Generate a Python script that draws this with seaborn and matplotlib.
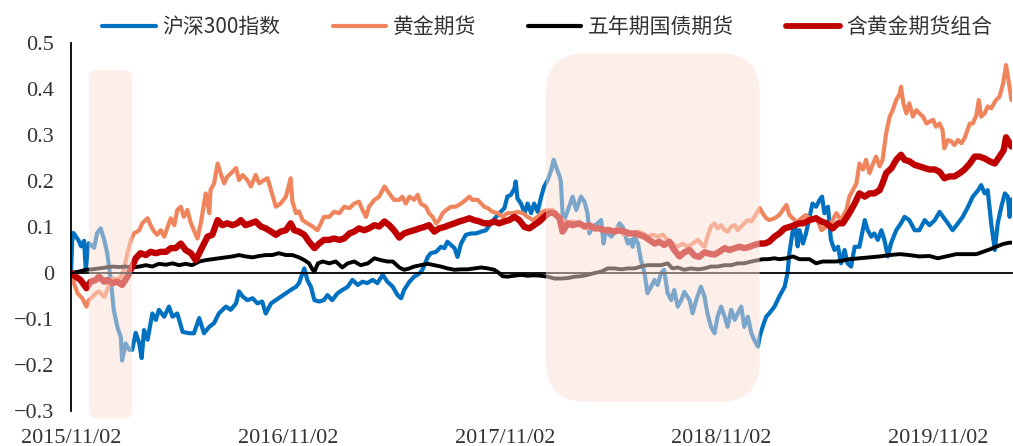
import numpy as np
import pandas as pd
import matplotlib
matplotlib.use("Agg")
import matplotlib.pyplot as plt
import matplotlib.dates as mdates
from matplotlib.patches import FancyBboxPatch
from matplotlib.transforms import IdentityTransform
from matplotlib.ticker import FuncFormatter, MultipleLocator
import seaborn as sns

# ---------------- data ----------------
start_date = "2015-11-02"
series_names = ["沪深300指数", "黄金期货", "五年期国债期货", "含黄金期货组合"]
x_tick_labels = ["2015/11/02", "2016/11/02", "2017/11/02", "2018/11/02", "2019/11/02"]

# days elapsed since start_date, and cumulative return
csi_days = [0, 2, 4, 8, 13, 17, 22, 25, 28, 30, 39, 44, 50, 56, 61, 67, 72, 78, 84, 86, 92, 98, 103, 109, 115,
            119, 123, 129, 137, 143, 148, 157, 165, 171, 179, 188, 199, 207, 216, 224, 233, 241, 249, 261, 269,
            278, 283, 289, 297, 306, 314, 322, 328, 337, 345, 354, 362, 370, 379, 384, 393, 398, 404, 410, 418,
            426, 432, 440, 449, 457, 466, 474, 483, 491, 499, 508, 516, 525, 533, 542, 550, 556, 561, 570, 578,
            587, 592, 601, 606, 615, 623, 629, 634, 640, 646, 651, 657, 665, 674, 682, 691, 699, 707, 716, 721,
            730, 735, 741, 747, 749, 752, 758, 764, 769, 775, 780, 786, 792, 797, 803, 809, 813, 817, 823, 825,
            828, 831, 839, 845, 851, 859, 865, 870, 873, 879, 887, 893, 897, 901, 910, 918, 924, 929, 938, 943,
            946, 949, 955, 960, 966, 971, 977, 983, 988, 994, 999, 1005, 1011, 1016, 1022, 1028, 1033, 1042,
            1047, 1053, 1061, 1067, 1072, 1078, 1084, 1089, 1095, 1101, 1106, 1112, 1118, 1123, 1129, 1134,
            1140, 1146, 1151, 1157, 1160, 1165, 1171, 1176, 1185, 1193, 1202, 1207, 1210, 1215, 1219, 1224,
            1227, 1233, 1238, 1244, 1249, 1255, 1261, 1265, 1269, 1275, 1280, 1286, 1292, 1297, 1303, 1308,
            1314, 1320, 1328, 1337, 1342, 1348, 1353, 1359, 1365, 1370, 1376, 1381, 1390, 1398, 1404, 1412,
            1421, 1429, 1438, 1446, 1455, 1463, 1469, 1477, 1485, 1494, 1502, 1511, 1519, 1528, 1533, 1539,
            1544, 1550, 1556, 1561, 1567, 1573, 1578, 1581, 1584]
csi_vals = [0.0, 0.07, 0.087, 0.08, 0.07, 0.058, 0.07, 0.006, 0.05, 0.065, 0.055, 0.087, 0.097, 0.072, 0.043,
            -0.015, -0.08, -0.117, -0.14, -0.19, -0.153, -0.167, -0.167, -0.13, -0.153, -0.185, -0.124, -0.145,
            -0.088, -0.102, -0.08, -0.095, -0.073, -0.095, -0.088, -0.128, -0.131, -0.131, -0.098, -0.131,
            -0.117, -0.109, -0.088, -0.073, -0.08, -0.066, -0.04, -0.051, -0.059, -0.055, -0.066, -0.062,
            -0.088, -0.066, -0.059, -0.051, -0.044, -0.037, -0.03, -0.022, 0.01, -0.015, -0.03, -0.059, -0.062,
            -0.059, -0.048, -0.059, -0.044, -0.037, -0.03, -0.015, -0.026, -0.019, -0.022, -0.015, -0.022,
            -0.004, -0.019, -0.03, -0.048, -0.055, -0.037, -0.019, -0.008, -0.001, 0.007, 0.035, 0.043, 0.046,
            0.057, 0.054, 0.068, 0.061, 0.054, 0.035, 0.064, 0.083, 0.086, 0.086, 0.09, 0.093, 0.108, 0.122,
            0.129, 0.141, 0.166, 0.17, 0.184, 0.199, 0.162, 0.151, 0.13, 0.151, 0.13, 0.151, 0.133, 0.166,
            0.188, 0.202, 0.224, 0.246, 0.231, 0.21, 0.2, 0.13, 0.115, 0.144, 0.166, 0.137, 0.166, 0.155, 0.13,
            0.086, 0.101, 0.108, 0.115, 0.064, 0.093, 0.079, 0.093, 0.108, 0.101, 0.064, 0.072, 0.057, 0.079,
            0.064, 0.028, 0.0, -0.044, -0.03, -0.015, -0.026, 0.0, 0.007, -0.044, -0.059, -0.037, -0.073,
            -0.059, -0.041, -0.059, -0.088, -0.059, -0.03, -0.051, -0.088, -0.117, -0.131, -0.095, -0.073,
            -0.095, -0.117, -0.08, -0.102, -0.088, -0.073, -0.117, -0.095, -0.131, -0.146, -0.16, -0.138,
            -0.117, -0.095, -0.088, -0.073, -0.051, -0.03, 0.0, 0.043, 0.086, 0.108, 0.058, 0.093, 0.064,
            0.086, 0.122, 0.151, 0.144, 0.159, 0.166, 0.13, 0.144, 0.072, 0.05, 0.057, 0.021, 0.05, 0.021,
            0.014, 0.057, 0.057, 0.115, 0.093, 0.079, 0.086, 0.072, 0.093, 0.072, 0.036, 0.064, 0.093, 0.108,
            0.122, 0.115, 0.093, 0.093, 0.115, 0.104, 0.115, 0.133, 0.122, 0.108, 0.093, 0.108, 0.122, 0.144,
            0.166, 0.18, 0.191, 0.173, 0.18, 0.108, 0.05, 0.108, 0.144, 0.173, 0.166, 0.122, 0.16]

gold_days = [0, 5, 11, 19, 26, 30, 36, 42, 47, 56, 61, 67, 72, 78, 84, 89, 95, 101, 106, 115, 120, 129, 134, 140,
             145, 151, 157, 162, 168, 174, 179, 185, 190, 196, 202, 207, 213, 219, 224, 227, 233, 235, 241, 247,
             252, 258, 263, 272, 278, 283, 289, 297, 303, 311, 317, 325, 331, 337, 345, 353, 362, 370, 373, 379,
             384, 390, 398, 407, 415, 421, 426, 435, 443, 452, 460, 469, 477, 485, 491, 497, 502, 511, 519, 528,
             536, 544, 553, 558, 564, 570, 578, 584, 589, 598, 603, 609, 615, 620, 626, 632, 640, 648, 657, 665,
             671, 676, 685, 691, 696, 702, 710, 719, 727, 735, 744, 752, 761, 769, 778, 786, 794, 803, 811, 820,
             828, 837, 845, 853, 862, 870, 879, 887, 896, 904, 912, 921, 929, 938, 946, 955, 963, 971, 980, 988,
             997, 1005, 1013, 1022, 1030, 1039, 1047, 1056, 1061, 1067, 1072, 1078, 1084, 1089, 1095, 1101, 1106,
             1112, 1118, 1123, 1129, 1134, 1140, 1146, 1151, 1160, 1165, 1171, 1176, 1185, 1193, 1205, 1210,
             1219, 1221, 1230, 1238, 1247, 1255, 1264, 1272, 1280, 1289, 1297, 1306, 1311, 1317, 1323, 1328,
             1334, 1339, 1345, 1351, 1356, 1362, 1367, 1373, 1379, 1384, 1390, 1396, 1398, 1402, 1407, 1412,
             1418, 1424, 1429, 1435, 1441, 1446, 1452, 1457, 1463, 1468, 1471, 1477, 1483, 1488, 1494, 1500,
             1505, 1514, 1519, 1525, 1529, 1533, 1539, 1544, 1550, 1558, 1564, 1570, 1575, 1580, 1584]
gold_vals = [0.0, -0.022, -0.044, -0.055, -0.073, -0.059, -0.052, -0.044, -0.04, -0.052, -0.037, -0.015, -0.012,
             -0.015, -0.008, 0.007, 0.043, 0.072, 0.086, 0.093, 0.108, 0.119, 0.104, 0.09, 0.083, 0.093, 0.079,
             0.097, 0.119, 0.104, 0.137, 0.144, 0.122, 0.137, 0.108, 0.093, 0.075, 0.11, 0.151, 0.173, 0.13,
             0.18, 0.195, 0.238, 0.217, 0.195, 0.209, 0.22, 0.228, 0.202, 0.213, 0.202, 0.188, 0.213, 0.195,
             0.202, 0.206, 0.18, 0.144, 0.151, 0.166, 0.206, 0.155, 0.13, 0.134, 0.115, 0.108, 0.101, 0.093,
             0.108, 0.122, 0.122, 0.133, 0.13, 0.144, 0.141, 0.151, 0.155, 0.137, 0.122, 0.144, 0.159, 0.166,
             0.188, 0.173, 0.159, 0.159, 0.166, 0.151, 0.166, 0.159, 0.17, 0.151, 0.144, 0.13, 0.122, 0.108,
             0.115, 0.13, 0.137, 0.144, 0.144, 0.151, 0.159, 0.166, 0.159, 0.159, 0.151, 0.144, 0.141, 0.133,
             0.13, 0.122, 0.13, 0.13, 0.133, 0.13, 0.122, 0.115, 0.122, 0.133, 0.137, 0.137, 0.126, 0.115,
             0.108, 0.112, 0.108, 0.104, 0.097, 0.101, 0.097, 0.093, 0.097, 0.09, 0.097, 0.086, 0.083, 0.086,
             0.09, 0.086, 0.079, 0.083, 0.079, 0.083, 0.072, 0.064, 0.057, 0.064, 0.057, 0.064, 0.072, 0.064,
             0.057, 0.079, 0.101, 0.108, 0.097, 0.104, 0.093, 0.09, 0.101, 0.104, 0.093, 0.101, 0.108, 0.115,
             0.112, 0.122, 0.141, 0.13, 0.119, 0.115, 0.119, 0.126, 0.148, 0.126, 0.115, 0.108, 0.119, 0.126,
             0.115, 0.122, 0.093, 0.101, 0.108, 0.13, 0.115, 0.137, 0.166, 0.18, 0.195, 0.238, 0.225, 0.246,
             0.217, 0.238, 0.253, 0.232, 0.246, 0.304, 0.34, 0.354, 0.376, 0.39, 0.405, 0.369, 0.347, 0.369,
             0.34, 0.354, 0.347, 0.34, 0.325, 0.329, 0.333, 0.318, 0.325, 0.311, 0.271, 0.289, 0.286, 0.278,
             0.289, 0.282, 0.293, 0.325, 0.325, 0.343, 0.376, 0.34, 0.347, 0.362, 0.358, 0.376, 0.383, 0.412,
             0.452, 0.412, 0.376]

bond_days = [0, 13, 25, 36, 47, 58, 70, 81, 92, 103, 115, 126, 137, 148, 160, 171, 182, 193, 204, 216, 227, 238,
             249, 261, 272, 283, 294, 306, 317, 328, 339, 350, 362, 373, 384, 393, 401, 407, 410, 416, 424, 435,
             446, 457, 466, 477, 488, 500, 511, 522, 533, 542, 553, 561, 570, 578, 589, 601, 612, 623, 634, 646,
             657, 668, 679, 691, 702, 713, 721, 727, 735, 747, 758, 769, 780, 792, 803, 814, 826, 837, 848, 859,
             870, 882, 893, 904, 915, 927, 938, 949, 960, 971, 983, 994, 1005, 1013, 1022, 1033, 1044, 1056,
             1067, 1078, 1089, 1101, 1112, 1123, 1134, 1146, 1157, 1165, 1174, 1185, 1193, 1205, 1216, 1227,
             1244, 1255, 1266, 1277, 1289, 1300, 1311, 1328, 1345, 1362, 1379, 1396, 1412, 1429, 1446, 1460,
             1474, 1491, 1508, 1525, 1536, 1547, 1558, 1570, 1581, 1584]
bond_vals = [0.0, 0.003, 0.007, 0.008, 0.01, 0.012, 0.014, 0.013, 0.014, 0.012, 0.014, 0.017, 0.014, 0.02,
             0.018, 0.021, 0.017, 0.02, 0.017, 0.025, 0.028, 0.03, 0.032, 0.034, 0.036, 0.039, 0.036, 0.034,
             0.037, 0.039, 0.039, 0.043, 0.039, 0.039, 0.034, 0.028, 0.021, 0.007, 0.003, 0.021, 0.025, 0.021,
             0.025, 0.012, 0.021, 0.025, 0.017, 0.021, 0.032, 0.028, 0.025, 0.025, 0.012, 0.007, 0.01, 0.014,
             0.017, 0.02, 0.017, 0.014, 0.01, 0.007, 0.008, 0.008, 0.01, 0.012, 0.01, 0.007, 0.0, -0.007, -0.008,
             -0.006, -0.004, -0.006, -0.005, -0.006, -0.008, -0.012, -0.012, -0.011, -0.008, -0.007, -0.004,
             0.0, 0.003, 0.01, 0.01, 0.008, 0.01, 0.01, 0.014, 0.017, 0.017, 0.017, 0.021, 0.01, 0.012, 0.007,
             0.01, 0.008, 0.01, 0.014, 0.014, 0.017, 0.017, 0.021, 0.021, 0.025, 0.028, 0.03, 0.03, 0.032, 0.03,
             0.032, 0.036, 0.03, 0.03, 0.021, 0.025, 0.025, 0.025, 0.027, 0.03, 0.032, 0.034, 0.036, 0.039,
             0.041, 0.039, 0.036, 0.037, 0.032, 0.036, 0.041, 0.041, 0.041, 0.046, 0.051, 0.057, 0.063, 0.066,
             0.066]

port_days = [0, 8, 16, 26, 33, 42, 47, 56, 61, 70, 78, 86, 95, 103, 109, 117, 126, 134, 143, 151, 160, 168, 176,
             185, 193, 202, 210, 216, 224, 230, 238, 247, 255, 263, 272, 280, 286, 294, 303, 311, 320, 328, 337,
             345, 353, 362, 370, 376, 384, 393, 401, 410, 418, 426, 435, 443, 452, 460, 469, 477, 485, 494, 502,
             511, 519, 528, 536, 544, 553, 561, 570, 578, 587, 595, 603, 612, 620, 629, 637, 646, 654, 662, 671,
             679, 688, 696, 705, 713, 721, 730, 738, 747, 755, 764, 772, 780, 789, 797, 806, 814, 823, 828, 837,
             845, 856, 865, 873, 882, 890, 898, 907, 915, 924, 932, 941, 949, 957, 966, 974, 983, 991, 999, 1008,
             1016, 1025, 1033, 1042, 1050, 1058, 1067, 1075, 1084, 1092, 1101, 1109, 1118, 1126, 1134, 1143,
             1151, 1160, 1168, 1176, 1185, 1193, 1202, 1210, 1219, 1227, 1233, 1244, 1255, 1264, 1272, 1283,
             1292, 1300, 1311, 1320, 1328, 1337, 1345, 1353, 1362, 1367, 1373, 1382, 1390, 1398, 1404, 1412,
             1421, 1429, 1438, 1446, 1455, 1463, 1471, 1480, 1488, 1497, 1505, 1514, 1522, 1530, 1539, 1547,
             1556, 1564, 1571, 1575, 1581, 1584]
port_vals = [0.0, -0.008, -0.015, -0.033, -0.019, -0.015, -0.008, -0.019, -0.015, -0.022, -0.019, -0.026,
             -0.008, 0.014, 0.032, 0.043, 0.039, 0.046, 0.043, 0.046, 0.046, 0.054, 0.054, 0.064, 0.05, 0.043,
             0.028, 0.043, 0.064, 0.079, 0.083, 0.115, 0.104, 0.108, 0.104, 0.108, 0.115, 0.104, 0.108, 0.112,
             0.101, 0.097, 0.09, 0.083, 0.09, 0.093, 0.108, 0.093, 0.09, 0.083, 0.068, 0.054, 0.064, 0.072,
             0.072, 0.075, 0.072, 0.075, 0.086, 0.09, 0.097, 0.093, 0.097, 0.104, 0.101, 0.112, 0.104, 0.093,
             0.077, 0.086, 0.09, 0.093, 0.097, 0.1, 0.104, 0.09, 0.097, 0.1, 0.104, 0.108, 0.112, 0.115, 0.119,
             0.115, 0.112, 0.108, 0.108, 0.112, 0.108, 0.112, 0.115, 0.122, 0.115, 0.1, 0.097, 0.104, 0.112,
             0.122, 0.131, 0.13, 0.119, 0.09, 0.108, 0.104, 0.108, 0.101, 0.104, 0.097, 0.097, 0.093, 0.093,
             0.09, 0.093, 0.09, 0.086, 0.086, 0.083, 0.079, 0.072, 0.064, 0.068, 0.061, 0.068, 0.05, 0.036,
             0.045, 0.05, 0.038, 0.035, 0.045, 0.042, 0.04, 0.046, 0.054, 0.05, 0.054, 0.057, 0.054, 0.057,
             0.061, 0.064, 0.064, 0.068, 0.079, 0.086, 0.097, 0.1, 0.104, 0.108, 0.108, 0.115, 0.119, 0.112,
             0.108, 0.097, 0.108, 0.108, 0.13, 0.151, 0.173, 0.166, 0.173, 0.173, 0.18, 0.195, 0.217, 0.228,
             0.246, 0.257, 0.246, 0.243, 0.235, 0.232, 0.228, 0.225, 0.225, 0.22, 0.206, 0.21, 0.21, 0.217,
             0.225, 0.238, 0.253, 0.253, 0.249, 0.243, 0.238, 0.253, 0.267, 0.295, 0.282, 0.275]

# highlighted periods: (start day, end day) and their vertical extent
box_days = [(30, 103), (800, 1160)]
box_vals = [(-0.316, 0.441), (-0.28, 0.478)]
box_radius_px = [8, 40]

# ---------------- style ----------------
colors = ["#0070C0", "#F0855D", "#000000", "#C00000"]
widths = [3.0, 3.0, 2.8, 4.6]

sns.set_style("white")
plt.rcParams["font.family"] = ["Liberation Serif", "Noto Sans CJK SC"]
plt.rcParams["axes.unicode_minus"] = True

W, H = 1013, 446
fig = plt.figure(figsize=(W / 100, H / 100), dpi=100)
left_px, right_px, top_px, bottom_px = 71, 1012, 43, 411
ax = fig.add_axes([left_px / W, 1 - bottom_px / H, (right_px - left_px) / W, (bottom_px - top_px) / H])

t0 = pd.Timestamp(start_date)
all_days = [csi_days, gold_days, bond_days, port_days]
all_vals = [csi_vals, gold_vals, bond_vals, port_vals]
for name, d, v, c, lw in zip(series_names, all_days, all_vals, colors, widths):
    df = pd.DataFrame({"date": t0 + pd.to_timedelta(d, unit="D"), "value": v})
    sns.lineplot(data=df, x="date", y="value", ax=ax, color=c, linewidth=lw,
                 label=name, estimator=None, sort=False,
                 solid_joinstyle="round", solid_capstyle="round")

ax.set_xlim(t0, t0 + pd.Timedelta(days=1585))
ax.set_ylim(-0.3, 0.5)
ax.yaxis.set_major_locator(MultipleLocator(0.1))


def yfmt(v, _):
    if abs(v) < 1e-9:
        return "0"
    return f"{v:.1f}".replace("-", "\u2212")


ax.yaxis.set_major_formatter(FuncFormatter(yfmt))
tick_dates = pd.to_datetime(x_tick_labels, format="%Y/%m/%d")
ax.set_xticks(tick_dates)
ax.set_xticklabels(x_tick_labels)
ax.set_xlabel("")
ax.set_ylabel("")

for s in ["top", "right"]:
    ax.spines[s].set_visible(False)
ax.spines["bottom"].set_position(("data", 0))
for s in ["left", "bottom"]:
    ax.spines[s].set_color("black")
    ax.spines[s].set_linewidth(1.3)

ax.tick_params(axis="x", direction="out", length=3.8, width=1.1, color="black",
               pad=108.5, labelsize=16, labelcolor="#333333")
ax.tick_params(axis="y", direction="out", length=5, width=1.1, color="black",
               pad=7, labelsize=16, labelcolor="#333333")

# legend
handles, labels = ax.get_legend_handles_labels()
if ax.legend_ is not None:
    ax.legend_.remove()
leg = fig.legend(handles, labels, loc="center", bbox_to_anchor=(0.5405, 0.9395),
                 ncol=4, frameon=False, handlelength=2.55, handletextpad=0.33,
                 columnspacing=2.5, prop={"family": ["Noto Sans CJK SC"], "size": 15})
for t in leg.get_texts():
    t.set_color("#333333")
for h, lw in zip(leg.legend_handles, [3.0, 3.0, 3.0, 4.2]):
    h.set_linewidth(lw)

# highlight boxes (drawn on top, semi transparent)
fig.canvas.draw()
for (d0, d1), (v0, v1), r in zip(box_days, box_vals, box_radius_px):
    x0 = mdates.date2num(t0 + pd.Timedelta(days=d0))
    x1 = mdates.date2num(t0 + pd.Timedelta(days=d1))
    (px0, py0) = ax.transData.transform((x0, v0))
    (px1, py1) = ax.transData.transform((x1, v1))
    patch = FancyBboxPatch((px0, py0), px1 - px0, py1 - py0,
                           boxstyle=f"round,pad=0,rounding_size={r}",
                           transform=IdentityTransform(), facecolor="#FBDFD5",
                           edgecolor="none", alpha=0.5, zorder=20, clip_on=False)
    fig.add_artist(patch)

fig.savefig("out.png", dpi=100)
